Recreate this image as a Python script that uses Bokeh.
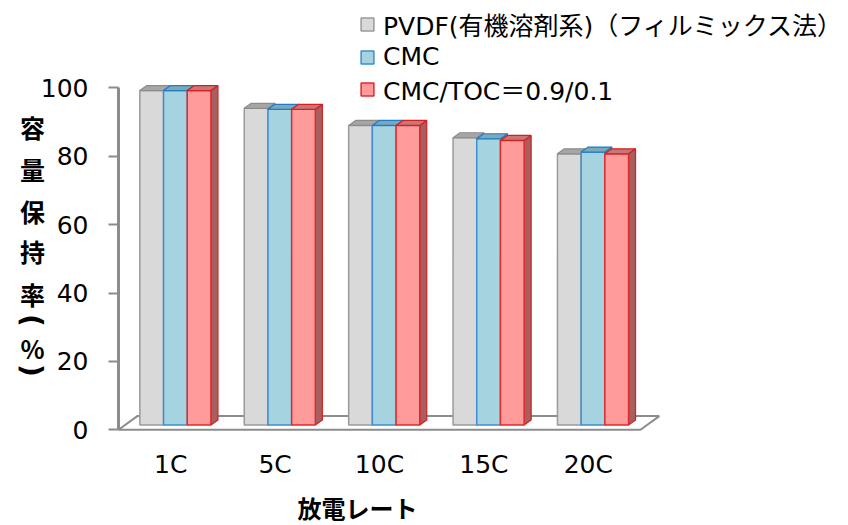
import math
from bokeh.plotting import figure
from bokeh.models import FixedTicker, Label, Legend, LegendItem, Range1d
from bokeh.embed import file_html
from bokeh.resources import INLINE

# ---------------- data ----------------
categories = ["1C", "5C", "10C", "15C", "20C"]
series_names = ["PVDF(有機溶剤系)（フィルミックス法）", "CMC", "CMC/TOC＝0.9/0.1"]
pvdf = [97.8, 92.6, 87.6, 84.0, 79.3]
cmc = [97.8, 92.3, 87.6, 83.7, 79.8]
cmc_toc = [97.8, 92.3, 87.6, 83.2, 79.3]
y_ticks = [0, 20, 40, 60, 80, 100]
y_title_chars = ["容", "量", "保", "持", "率", "(", "%", ")"]
x_title = "放電レート"

# ---------------- style ----------------
front_fill = ["#d9d9d9", "#a5d3e0", "#ff9b9b"]
front_line = ["#9a9a9a", "#3d8fd1", "#e02b2b"]
top_fill = ["#a6a6a6", "#7aa9b7", "#c77777"]
top_line = ["#8c8c8c", "#1f7cc8", "#d42020"]
side_fill = ["#a0a0a0", "#6f9aa8", "#a85f5f"]

PX_X = 104.4   # px per category unit
PX_Y = 3.42    # px per value unit
W, H = 846, 525
AX_X = 118.0   # pixel column of the value axis (x = -0.5)
ZERO_Y = 429.3 # pixel row of value 0

x_start = -0.5 - AX_X / PX_X
y_end = ZERO_Y / PX_Y
y_start = y_end - H / PX_Y

bar_w = 0.227
dxf, dyf = 0.045, 1.4     # front face shift (depth)
dxd, dyd = 0.067, 1.46    # bar depth
fx, fy = 0.18, 4.0        # floor depth

FONT = "DejaVu Sans, Noto Sans CJK JP"
JP_FONT = "Noto Sans CJK JP"

p = figure(width=W, height=H, output_backend="svg", toolbar_location=None,
           x_range=Range1d(x_start, x_start + W / PX_X),
           y_range=Range1d(y_start, y_end),
           min_border_left=0, min_border_right=0,
           min_border_top=0, min_border_bottom=0)
p.title.visible = False
p.outline_line_color = None
p.grid.visible = False
p.background_fill_color = "white"
p.border_fill_color = "white"

n = len(categories)
# floor
p.patch([-0.5, n - 0.5, n - 0.5 + fx, -0.5 + fx], [0, 0, fy, fy],
        fill_color="white", line_color="#8c8c8c", line_width=2)

fronts = []
for s, vals in enumerate([pvdf, cmc, cmc_toc]):
    left = [i + (s - 1.5) * bar_w + dxf for i in range(n)]
    right = [l + bar_w for l in left]
    tops = [dyf + v for v in vals]
    side_xs = [[r, r + dxd, r + dxd, r] for r in right]
    side_ys = [[dyf, dyf + dyd, t + dyd, t] for t in tops]
    p.patches(side_xs, side_ys, fill_color=side_fill[s], line_color=top_line[s], line_width=1.2)
    fr = p.quad(left=left, right=right, bottom=[dyf] * n, top=tops,
                fill_color=front_fill[s], line_color=front_line[s], line_width=1.5)
    fronts.append(fr)
    top_xs = [[l, r, r + dxd, l + dxd] for l, r in zip(left, right)]
    top_ys = [[t, t, t + dyd, t + dyd] for t in tops]
    p.patches(top_xs, top_ys, fill_color=top_fill[s], line_color=top_line[s], line_width=1.2)

# axes (placed inside the frame)
ya = p.yaxis[0]
ya.fixed_location = -0.5
ya.ticker = FixedTicker(ticks=y_ticks)
ya.bounds = (0, 100)
ya.axis_line_color = "#8c8c8c"
ya.axis_line_width = 3
ya.major_tick_line_color = "#8c8c8c"
ya.major_tick_line_width = 2
ya.major_tick_in = 0
ya.major_tick_out = 10
ya.minor_tick_line_color = None
ya.major_label_standoff = 20
ya.major_label_text_font = "DejaVu Sans"
ya.major_label_text_font_size = "25px"
ya.major_label_text_color = "black"

xa = p.xaxis[0]
xa.fixed_location = 0
xa.ticker = FixedTicker(ticks=list(range(n)))
xa.major_label_overrides = {i: c for i, c in enumerate(categories)}
xa.axis_line_color = None
xa.major_tick_line_color = None
xa.minor_tick_line_color = None
xa.major_tick_in = 0
xa.major_tick_out = 0
xa.major_label_standoff = 20
xa.major_label_text_font = "DejaVu Sans"
xa.major_label_text_font_size = "25px"
xa.major_label_text_color = "black"

# legend
legend = Legend(items=[LegendItem(label=nm, renderers=[r]) for nm, r in zip(series_names, fronts)],
                location=(359, 418), orientation="vertical")
legend.margin = 0
legend.padding = 0
legend.spacing = 0
legend.glyph_width = 16
legend.glyph_height = 16
legend.label_standoff = 8
legend.label_height = 20
legend.label_text_font = FONT
legend.label_text_font_size = "25px"
legend.label_text_color = "black"
legend.background_fill_alpha = 0
legend.border_line_color = None
p.add_layout(legend)

# titles
def px_to_x(px):
    return -0.5 + (px - AX_X) / PX_X

def py_to_y(py):
    return (ZERO_Y - py) / PX_Y

y_title_pos = [126, 168, 210, 250, 293, 320, 347, 370]
for ch, py in zip(y_title_chars, y_title_pos):
    is_paren = ch in "()"
    p.add_layout(Label(x=px_to_x(31 if is_paren else 32), y=py_to_y(py), text=ch,
                       text_align="center", text_baseline="middle",
                       text_font="DejaVu Sans" if is_paren else JP_FONT,
                       text_font_size="28px" if is_paren else "25px",
                       angle=-math.pi / 2 if is_paren else 0,
                       text_font_style="bold", text_color="black"))

p.add_layout(Label(x=px_to_x(357), y=py_to_y(507), text=x_title, text_align="center",
                   text_baseline="middle", text_font=JP_FONT, text_font_size="24px",
                   text_font_style="bold", text_color="black"))

open("out.html", "w").write(file_html(p, INLINE))
